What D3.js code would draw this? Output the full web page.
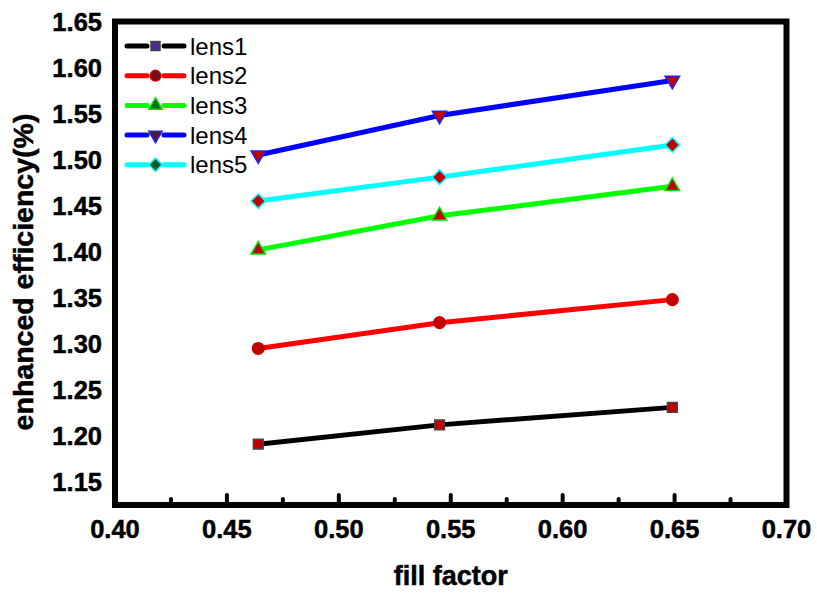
<!DOCTYPE html>
<html>
<head>
<meta charset="utf-8">
<script src="https://cdnjs.cloudflare.com/ajax/libs/d3/7.8.5/d3.min.js"></script>
<style>
	body { margin: 0; background: #fff; }
	text { font-family: "Liberation Sans", Arial, sans-serif; }
	.bold-text { font-weight: bold; stroke: #000; stroke-width: 0.5px; }
</style>
</head>
<body>
<div id="chart"></div>
<script>

///////////////////////////////////////////////////////////////////////////
/////////////////////////////// The data //////////////////////////////////
///////////////////////////////////////////////////////////////////////////

var fillFactor = [0.464, 0.545, 0.649];

var lens1 = [1.191, 1.212, 1.231];
var lens2 = [1.295, 1.323, 1.348];
var lens3 = [1.402, 1.439, 1.471];
var lens4 = [1.505, 1.548, 1.586];
var lens5 = [1.455, 1.481, 1.516];

var seriesNames = ["lens1", "lens2", "lens3", "lens4", "lens5"];

var xTicks = [0.40, 0.45, 0.50, 0.55, 0.60, 0.65, 0.70];
var xMinorTicks = [0.425, 0.475, 0.525, 0.575, 0.625, 0.675];
var yTicks = [1.15, 1.20, 1.25, 1.30, 1.35, 1.40, 1.45, 1.50, 1.55, 1.60, 1.65];

///////////////////////////////////////////////////////////////////////////
//////////////////////////// Set up the SVG ///////////////////////////////
///////////////////////////////////////////////////////////////////////////

var width = 817,
	height = 594;

var plot = {left: 115, right: 786.5, top: 21.5, bottom: 505};

var svg = d3.select("#chart")
	.append("svg")
	.attr("width", width)
	.attr("height", height);

var x = d3.scaleLinear()
	.domain([0.40, 0.70])
	.range([plot.left, plot.right]);

var y = d3.scaleLinear()
	.domain([1.125, 1.65])
	.range([plot.bottom, plot.top]);

//Line colour, marker shape, fill of the legend marker
var styles = [
	{line: "#000000", symbol: d3.symbolSquare, edge: "#444444", legendFill: "#4b2a8c", size: 95},
	{line: "#ff0000", symbol: d3.symbolCircle, edge: "#d00000", legendFill: "#6e0f1c", size: 105},
	{line: "#00ff00", symbol: d3.symbolTriangle, edge: "#00e000", legendFill: "#0b6b1e", size: 90, rotate: 0},
	{line: "#0000ff", symbol: d3.symbolTriangle, edge: "#2020ff", legendFill: "#561732", size: 90, rotate: 180},
	{line: "#00ffff", symbol: d3.symbolSquare, edge: "#00ffff", legendFill: "#0c5a2a", size: 105, rotate: 45}
];

var series = [lens1, lens2, lens3, lens4, lens5].map(function(values, i) {
	return {
		name: seriesNames[i],
		style: styles[i],
		points: values.map(function(v, j) { return {x: fillFactor[j], y: v}; })
	};
});

function rot(s) { return s.rotate ? " rotate(" + s.rotate + ")" : ""; }

///////////////////////////////////////////////////////////////////////////
//////////////////////////////// Axes /////////////////////////////////////
///////////////////////////////////////////////////////////////////////////

//Minor and major ticks pointing inwards from the bottom frame
svg.append("g")
	.selectAll("line")
	.data(xMinorTicks)
	.enter().append("line")
	.attr("x1", function(d) { return x(d); })
	.attr("x2", function(d) { return x(d); })
	.attr("y1", plot.bottom)
	.attr("y2", plot.bottom - 6)
	.style("stroke", "#000")
	.style("stroke-width", 4)
	.style("stroke-linecap", "round");

svg.append("g")
	.selectAll("line")
	.data(xTicks.slice(1, -1))
	.enter().append("line")
	.attr("x1", function(d) { return x(d); })
	.attr("x2", function(d) { return x(d); })
	.attr("y1", plot.bottom)
	.attr("y2", plot.bottom - 10)
	.style("stroke", "#000")
	.style("stroke-width", 4)
	.style("stroke-linecap", "round");

//Tick labels
svg.append("g")
	.selectAll("text")
	.data(xTicks)
	.enter().append("text")
	.attr("class", "bold-text")
	.attr("x", function(d) { return x(d); })
	.attr("y", 538)
	.style("text-anchor", "middle")
	.style("font-size", "25.5px")
	.text(function(d) { return d3.format(".2f")(d); });

svg.append("g")
	.selectAll("text")
	.data(yTicks)
	.enter().append("text")
	.attr("class", "bold-text")
	.attr("x", 102)
	.attr("y", function(d) { return y(d); })
	.attr("dy", "0.36em")
	.style("text-anchor", "end")
	.style("font-size", "25.5px")
	.text(function(d) { return d3.format(".2f")(d); });

//Axis titles
svg.append("text")
	.attr("class", "bold-text")
	.attr("x", (plot.left + plot.right) / 2)
	.attr("y", 585)
	.style("text-anchor", "middle")
	.style("font-size", "27px")
	.text("fill factor");

svg.append("text")
	.attr("class", "bold-text")
	.attr("transform", "translate(33," + 272 + ") rotate(-90)")
	.style("text-anchor", "middle")
	.style("font-size", "28.5px")
	.text("enhanced efficiency(%)");

///////////////////////////////////////////////////////////////////////////
//////////////////////////// Lines & markers //////////////////////////////
///////////////////////////////////////////////////////////////////////////

var line = d3.line()
	.x(function(d) { return x(d.x); })
	.y(function(d) { return y(d.y); });

var seriesGroup = svg.selectAll(".series")
	.data(series)
	.enter().append("g")
	.attr("class", "series");

seriesGroup.append("path")
	.attr("d", function(d) { return line(d.points); })
	.style("fill", "none")
	.style("stroke", function(d) { return d.style.line; })
	.style("stroke-width", 5);

seriesGroup.selectAll(".marker")
	.data(function(d) { return d.points.map(function(p) { return {p: p, style: d.style}; }); })
	.enter().append("path")
	.attr("class", "marker")
	.attr("d", function(d) { return d3.symbol().type(d.style.symbol).size(d.style.size)(); })
	.attr("transform", function(d) {
		return "translate(" + x(d.p.x) + "," + y(d.p.y) + ")" + rot(d.style);
	})
	.style("fill", "#c00000")
	.style("stroke", function(d) { return d.style.edge; })
	.style("stroke-width", 1.5);

///////////////////////////////////////////////////////////////////////////
//////////////////////////////// Frame ////////////////////////////////////
///////////////////////////////////////////////////////////////////////////

svg.append("rect")
	.attr("x", plot.left)
	.attr("y", plot.top)
	.attr("width", plot.right - plot.left)
	.attr("height", plot.bottom - plot.top)
	.style("fill", "none")
	.style("stroke", "#000")
	.style("stroke-width", 6);

///////////////////////////////////////////////////////////////////////////
//////////////////////////////// Legend ///////////////////////////////////
///////////////////////////////////////////////////////////////////////////

var legend = svg.append("g")
	.selectAll("g")
	.data(series)
	.enter().append("g")
	.attr("transform", function(d, i) { return "translate(0," + (46 + i * 29.7) + ")"; });

legend.append("line")
	.attr("x1", 127).attr("x2", 147)
	.style("stroke", function(d) { return d.style.line; })
	.style("stroke-width", 5)
	.style("stroke-linecap", "round");

legend.append("line")
	.attr("x1", 164).attr("x2", 184)
	.style("stroke", function(d) { return d.style.line; })
	.style("stroke-width", 5)
	.style("stroke-linecap", "round");

legend.append("path")
	.attr("d", function(d) { return d3.symbol().type(d.style.symbol).size(d.style.size * 0.85)(); })
	.attr("transform", function(d) { return "translate(155.5,0)" + rot(d.style); })
	.style("fill", function(d) { return d.style.legendFill; })
	.style("stroke", function(d) { return d.style.edge; })
	.style("stroke-width", 1.5);

legend.append("text")
	.attr("x", 190)
	.attr("dy", "0.36em")
	.style("font-size", "24px")
	.text(function(d) { return d.name; });

</script>
</body>
</html>
